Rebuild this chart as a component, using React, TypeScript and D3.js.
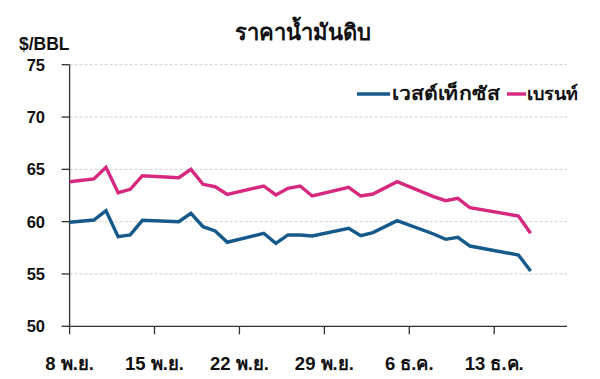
import React from "react";
import * as d3 from "d3";

const W = 600;
const H = 379;

// day offsets from 8 Nov
const days = [0, 2, 3, 4, 5, 6, 9, 10, 11, 12, 13, 16, 17, 18, 19, 20, 23, 24, 25, 27, 30, 31, 32, 33, 37, 38];
const wti = [59.94, 60.16, 61.05, 58.56, 58.73, 60.13, 60.0, 60.8, 59.52, 59.11, 58.03, 58.89, 57.93, 58.73, 58.73, 58.63, 59.37, 58.66, 58.95, 60.09, 58.82, 58.31, 58.5, 57.67, 56.81, 55.28];
const brent = [63.82, 64.08, 65.19, 62.77, 63.09, 64.39, 64.2, 65.0, 63.57, 63.34, 62.61, 63.41, 62.55, 63.19, 63.41, 62.45, 63.28, 62.45, 62.64, 63.82, 62.39, 62.0, 62.23, 61.33, 60.54, 58.89];

const xTickDays = [0, 7, 14, 21, 28, 35];
const xTickLabels = ["8 พ.ย.", "15 พ.ย.", "22 พ.ย.", "29 พ.ย.", "6 ธ.ค.", "13 ธ.ค."];
const yTicks = [50, 55, 60, 65, 70, 75];

const seriesNames = ["เวสต์เท็กซัส", "เบรนท์"];
const seriesColors = ["#165a8c", "#d6287f"];

const title = "ราคาน้ำมันดิบ";
const unit = "$/BBL";

const FONT = "'Liberation Sans', Arial, sans-serif";

export default function App() {
  const m = { left: 69.6, right: 567, top: 64.7, bottom: 326.3 };
  const x = d3.scaleLinear().domain([0, 41]).range([m.left, m.right]);
  const y = d3.scaleLinear().domain([50, 75]).range([m.bottom, m.top]);

  const line = d3
    .line<number>()
    .x((_, i) => x(days[i]))
    .y((d) => y(d));

  const series = [wti, brent];

  return (
    <svg
      width={W}
      height={H}
      style={{ position: "absolute", left: 0, top: 0, background: "#fff" }}
      fontFamily={FONT}
    >
      <rect x={0} y={0} width={W} height={H} fill="#fff" />
      {/* gridlines */}
      {yTicks
        .filter((t) => t !== 50)
        .map((t) => (
          <line
            key={"g" + t}
            x1={m.left}
            x2={m.right}
            y1={y(t)}
            y2={y(t)}
            stroke="#cfcfcf"
            strokeWidth={1}
            strokeDasharray="3,2"
          />
        ))}
      {/* y axis */}
      <line x1={m.left} x2={m.left} y1={m.top} y2={m.bottom} stroke="#333" strokeWidth={1.3} />
      {yTicks.map((t) => (
        <g key={"y" + t}>
          <line x1={m.left - 8} x2={m.left} y1={y(t)} y2={y(t)} stroke="#333" strokeWidth={1.3} />
          <text
            x={45}
            y={y(t)}
            dy="0.36em"
            textAnchor="end"
            fontSize={16.5}
            fontWeight="bold"
            fill="#111"
          >
            {t}
          </text>
        </g>
      ))}
      {/* x axis */}
      <line x1={m.left} x2={m.right} y1={m.bottom} y2={m.bottom} stroke="#333" strokeWidth={1.3} />
      {xTickDays.map((d, i) => (
        <g key={"x" + d}>
          <line x1={x(d)} x2={x(d)} y1={m.bottom} y2={m.bottom + 8} stroke="#333" strokeWidth={1.3} />
          <text
            x={x(d)}
            y={370}
            textAnchor="middle"
            fontSize={18.5}
            fontWeight="bold"
            fill="#111"
          >
            {xTickLabels[i]}
          </text>
        </g>
      ))}
      {/* lines */}
      {series.map((s, i) => (
        <path
          key={"s" + i}
          d={line(s) || ""}
          fill="none"
          stroke={seriesColors[i]}
          strokeWidth={3.4}
          strokeLinejoin="miter"
        />
      ))}
      {/* title */}
      <text x={303} y={40} textAnchor="middle" fontSize={22} fontWeight="bold" fill="#111">
        {title}
      </text>
      <text x={19} y={50} fontSize={17.5} fontWeight="bold" fill="#111">
        {unit}
      </text>
      {/* legend */}
      <line x1={357} x2={390} y1={94} y2={94} stroke={seriesColors[0]} strokeWidth={3.4} />
      <text
        x={392}
        y={100}
        fontSize={19}
        fontWeight="bold"
        fill="#111"
        textLength={108}
        lengthAdjust="spacingAndGlyphs"
      >
        {seriesNames[0]}
      </text>
      <line x1={507} x2={526} y1={94} y2={94} stroke={seriesColors[1]} strokeWidth={3.4} />
      <text x={527} y={100} fontSize={18} fontWeight="bold" fill="#111">
        {seriesNames[1]}
      </text>
    </svg>
  );
}
